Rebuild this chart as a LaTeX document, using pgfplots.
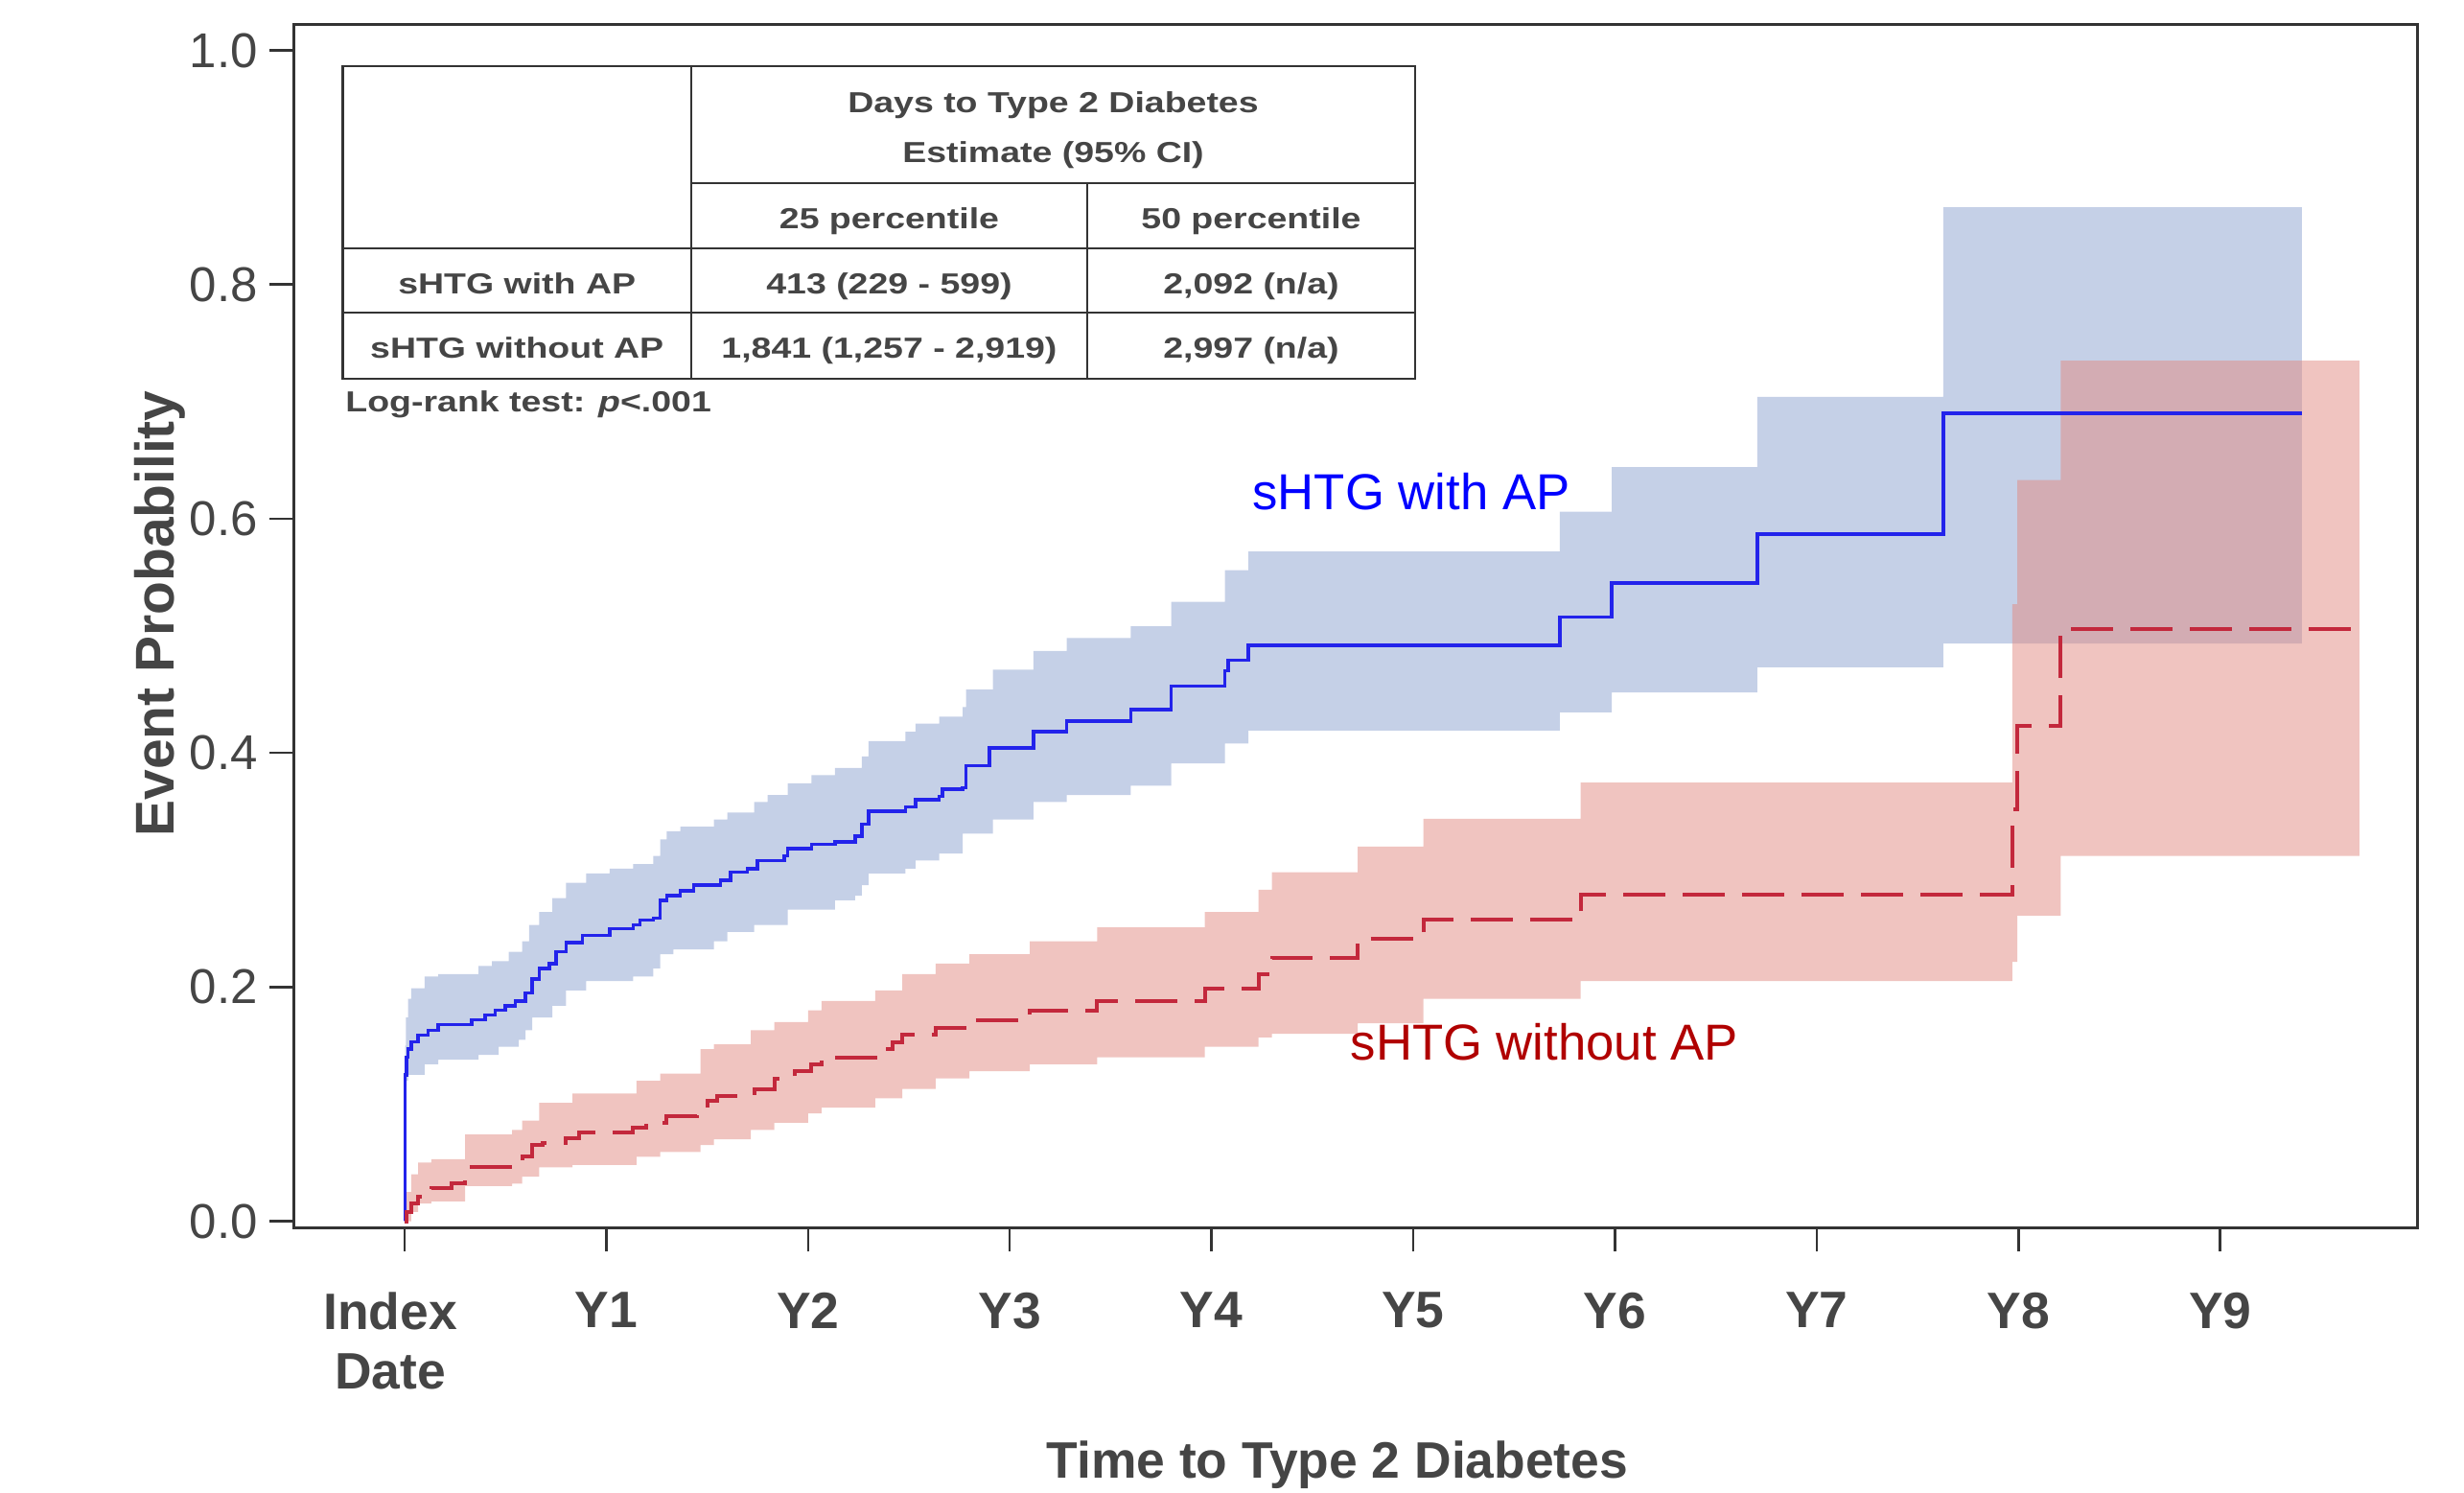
\documentclass[border=0pt]{standalone}
\usepackage{fontspec}
\setmainfont{Liberation Sans}
\usepackage{pgfplots}
\pgfplotsset{compat=1.18}
\usepgfplotslibrary{fillbetween}

\definecolor{txt}{HTML}{454545}
\definecolor{frame}{HTML}{333333}
\definecolor{bandblue}{RGB}{197,208,231}
\definecolor{bandred}{RGB}{225,137,129}
\definecolor{lineblue}{RGB}{35,35,235}
\definecolor{linered}{RGB}{195,40,60}
\definecolor{lblblue}{RGB}{0,0,255}
\definecolor{lblred}{RGB}{176,0,0}

\begin{document}
\begin{tikzpicture}
\begin{axis}[
    at={(30.6mm,27.6mm)}, anchor=south west,
    scale only axis, width=221.5mm, height=125.4mm,
    xmin=-0.551, xmax=9.976, ymin=-0.0053, ymax=1.0217,
    axis line style={frame, line width=0.3mm},
    tick style={frame, line width=0.25mm},
    tick align=outside, tick pos=left, major tick length=2.5mm,
    xtick={1,2,3,4,5,6,7,8,9},
    xticklabels={Y1,Y2,Y3,Y4,Y5,Y6,Y7,Y8,Y9},
    extra x ticks={0},
    extra x tick labels={{Index\\Date}},
    extra x tick style={grid=none, xticklabel style={xshift=-1.5mm}},
    xticklabel style={align=center, font=\fontsize{15.2}{17.6}\selectfont\bfseries,
        text=txt, anchor=north, inner sep=0pt, yshift=-4.2mm},
    ytick={0,0.2,0.4,0.6,0.8,1},
    yticklabel style={font=\fontsize{14.5}{17}\selectfont, text=txt},
    xlabel={Time to Type 2 Diabetes},
    xlabel style={at={(axis description cs:0.4916,-0.2089)}, anchor=base,
        font=\fontsize{15.2}{18}\selectfont\bfseries, text=txt},
    ylabel={Event Probability},
    ylabel style={at={(axis description cs:-0.056,0.5104)}, anchor=base,
        font=\fontsize{16.2}{19}\selectfont\bfseries, text=txt},
    /pgf/number format/fixed,
    /pgf/number format/fixed zerofill,
    /pgf/number format/precision=1,
    /pgf/number format/assume math mode=true,
]

% confidence band, with AP
\addplot[draw=none, const plot, name path=bu, forget plot] coordinates {
    (0.003,0.150) (0.007,0.174) (0.017,0.190) (0.033,0.199) (0.100,0.209)
    (0.167,0.211) (0.367,0.218) (0.433,0.222) (0.517,0.230) (0.583,0.239)
    (0.617,0.253) (0.667,0.264) (0.733,0.276) (0.800,0.289) (0.900,0.297)
    (1.017,0.301) (1.133,0.305) (1.233,0.312) (1.267,0.326) (1.300,0.333)
    (1.367,0.337) (1.533,0.343) (1.600,0.349) (1.733,0.358) (1.800,0.364)
    (1.900,0.374) (2.017,0.381) (2.133,0.387) (2.267,0.397) (2.300,0.410)
    (2.483,0.418) (2.533,0.425) (2.650,0.431) (2.767,0.439) (2.783,0.454)
    (2.917,0.471) (3.117,0.487) (3.283,0.498) (3.600,0.508) (3.800,0.529)
    (4.067,0.556) (4.183,0.572) (5.727,0.606) (5.984,0.644) (6.706,0.704)
    (7.628,0.866) (9.405,0.866)
};
\addplot[draw=none, const plot, name path=bl, forget plot] coordinates {
    (0.003,0.115) (0.010,0.120) (0.017,0.125) (0.100,0.134) (0.167,0.138)
    (0.367,0.142) (0.467,0.149) (0.567,0.155) (0.600,0.163) (0.633,0.174)
    (0.733,0.184) (0.800,0.197) (0.900,0.205) (1.133,0.209) (1.233,0.216)
    (1.267,0.228) (1.333,0.232) (1.533,0.239) (1.600,0.247) (1.733,0.253)
    (1.900,0.266) (2.133,0.274) (2.233,0.278) (2.267,0.287) (2.300,0.297)
    (2.483,0.301) (2.533,0.308) (2.650,0.314) (2.767,0.331) (2.917,0.343)
    (3.117,0.358) (3.283,0.364) (3.600,0.372) (3.800,0.391) (4.067,0.408)
    (4.183,0.419) (5.727,0.4345) (5.984,0.4516) (6.706,0.473) (7.628,0.4934)
    (9.405,0.4934)
};
\addplot[fill=bandblue, draw=none, forget plot] fill between[of=bu and bl];

% confidence band, without AP
\addplot[draw=none, const plot, name path=ru, forget plot] coordinates {
    (0.000,0.000) (0.005,0.025) (0.033,0.040) (0.067,0.050) (0.133,0.053)
    (0.300,0.074) (0.533,0.078) (0.583,0.086) (0.667,0.101) (0.833,0.109)
    (1.150,0.120) (1.267,0.126) (1.467,0.147) (1.533,0.151) (1.717,0.163)
    (1.833,0.170) (2.000,0.180) (2.067,0.188) (2.333,0.197) (2.467,0.211)
    (2.633,0.220) (2.800,0.228) (3.100,0.239) (3.433,0.251) (3.967,0.264)
    (4.233,0.283) (4.300,0.298) (4.725,0.320) (5.050,0.3436) (5.830,0.3745)
    (7.970,0.527) (7.995,0.633) (8.210,0.735) (9.690,0.735)
};
\addplot[draw=none, const plot, name path=rl, forget plot] coordinates {
    (0.000,0.000) (0.033,0.008) (0.067,0.015) (0.133,0.017) (0.300,0.030)
    (0.533,0.032) (0.583,0.038) (0.667,0.046) (0.833,0.048) (1.150,0.055)
    (1.267,0.059) (1.467,0.065) (1.533,0.070) (1.717,0.078) (1.833,0.084)
    (2.000,0.092) (2.067,0.097) (2.333,0.105) (2.467,0.113) (2.633,0.122)
    (2.800,0.128) (3.100,0.134) (3.433,0.140) (3.967,0.149) (4.233,0.157)
    (4.300,0.160) (4.725,0.169) (5.050,0.190) (5.830,0.205) (7.970,0.2215)
    (7.995,0.261) (8.210,0.312) (9.690,0.312)
};
\addplot[fill=bandred, fill opacity=0.5, draw=none, forget plot] fill between[of=ru and rl];

% sHTG with AP
\addplot[lineblue, line width=0.35mm, const plot] coordinates {
    (0,0) (0.003,0.125) (0.010,0.140) (0.017,0.147) (0.033,0.153) (0.067,0.159)
    (0.117,0.163) (0.167,0.168) (0.333,0.172) (0.400,0.176) (0.450,0.180)
    (0.500,0.184) (0.550,0.188) (0.600,0.195) (0.633,0.207) (0.667,0.216)
    (0.717,0.220) (0.750,0.230) (0.800,0.238) (0.883,0.244) (1.017,0.250)
    (1.133,0.253) (1.167,0.257) (1.233,0.259) (1.267,0.274) (1.300,0.278)
    (1.367,0.282) (1.433,0.287) (1.567,0.291) (1.617,0.298) (1.700,0.301)
    (1.750,0.308) (1.883,0.312) (1.900,0.318) (2.017,0.322) (2.133,0.324)
    (2.233,0.329) (2.267,0.339) (2.300,0.350) (2.483,0.354) (2.533,0.360)
    (2.650,0.363) (2.667,0.369) (2.767,0.370) (2.783,0.389) (2.900,0.404)
    (3.117,0.418) (3.283,0.427) (3.600,0.437) (3.800,0.457) (4.067,0.470)
    (4.083,0.479) (4.183,0.492) (5.727,0.516) (5.984,0.545) (6.706,0.587)
    (7.628,0.690) (9.405,0.690)
};

% sHTG without AP
\addplot[linered, line width=0.4mm, const plot, dash pattern=on 4.4mm off 1.8mm] coordinates {
    (0,0) (0.010,0.008) (0.033,0.015) (0.067,0.021) (0.133,0.028) (0.233,0.032)
    (0.300,0.046) (0.583,0.055) (0.633,0.065) (0.683,0.067) (0.800,0.071)
    (0.867,0.076) (1.133,0.080) (1.200,0.084) (1.300,0.090) (1.450,0.092)
    (1.500,0.103) (1.550,0.107) (1.667,0.109) (1.733,0.113) (1.833,0.122)
    (1.933,0.128) (2.017,0.134) (2.067,0.140) (2.350,0.147) (2.417,0.153)
    (2.467,0.159) (2.633,0.165) (2.800,0.172) (3.100,0.180) (3.433,0.188)
    (3.967,0.199) (4.233,0.211) (4.300,0.225) (4.725,0.241) (5.050,0.2575)
    (5.830,0.279) (7.970,0.352) (7.995,0.423) (8.210,0.506) (9.690,0.506)
};

\node[anchor=west, inner sep=0pt, font=\fontsize{15}{18}\selectfont, text=lblblue]
    at (axis cs:4.20,0.623) {sHTG with AP};
\node[anchor=west, inner sep=0pt, font=\fontsize{15}{18}\selectfont, text=lblred]
    at (axis cs:4.686,0.153) {sHTG without AP};
\end{axis}

% summary table (the inset is stretched sideways in the original)
\begin{scope}[x=1mm, y=1mm, font=\fontsize{8.6}{10}\selectfont\bfseries, text=txt]
\draw[frame, line width=0.22mm] (35.74,116.1) rectangle (147.6,148.67);
\draw[frame, line width=0.22mm] (72.1,116.1) -- (72.1,148.67);
\draw[frame, line width=0.22mm] (113.4,116.1) -- (113.4,136.53);
\draw[frame, line width=0.22mm] (72.1,136.53) -- (147.6,136.53);
\draw[frame, line width=0.22mm] (35.74,129.7) -- (147.6,129.7);
\draw[frame, line width=0.22mm] (35.74,123.0) -- (147.6,123.0);
\tikzset{cell/.style={anchor=base, inner sep=0pt}}
\node[cell] at (109.85,143.87) {\scalebox{1.24}[1]{Days to Type 2 Diabetes}};
\node[cell] at (109.85,138.6) {\scalebox{1.24}[1]{Estimate (95\% CI)}};
\node[cell] at (92.75,131.7) {\scalebox{1.24}[1]{25 percentile}};
\node[cell] at (130.5,131.7) {\scalebox{1.24}[1]{50 percentile}};
\node[cell] at (53.92,124.93) {\scalebox{1.24}[1]{sHTG with AP}};
\node[cell] at (92.75,124.93) {\scalebox{1.24}[1]{413 (229 - 599)}};
\node[cell] at (130.5,124.93) {\scalebox{1.24}[1]{2,092 (n/a)}};
\node[cell] at (53.92,118.27) {\scalebox{1.24}[1]{sHTG without AP}};
\node[cell] at (92.75,118.27) {\scalebox{1.24}[1]{1,841 (1,257 - 2,919)}};
\node[cell] at (130.5,118.27) {\scalebox{1.24}[1]{2,997 (n/a)}};
\node[anchor=base west, inner sep=0pt] at (35.97,112.6) {\scalebox{1.24}[1]{Log-rank test: \textit{p}<.001}};
\end{scope}
\pgfresetboundingbox
\useasboundingbox (0,0) rectangle (257mm,155.6mm);
\end{tikzpicture}
\end{document}
